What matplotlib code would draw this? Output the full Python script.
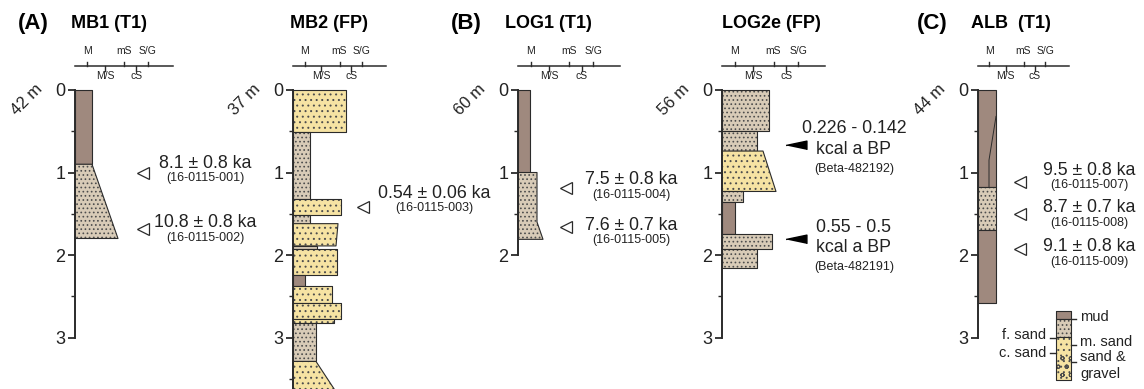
import numpy as np
import matplotlib.pyplot as plt

plt.rcParams['font.family'] = ['Liberation Sans', 'DejaVu Sans']
plt.rcParams['hatch.linewidth'] = 0.7

W, H = 1144, 389
TOP_PX = 90        # pixel row of 0 m
PX_PER_M = 82.5

# lithology styles
FILL = {'mud': '#9f897e', 'fs': '#d8cbb7', 'ms': '#f6e3a3', 'sg': '#f6e3a3'}
HATCH = {'mud': None, 'fs': '....', 'ms': '...', 'sg': 'o'}
DOT = '#4d4d4d'
LINE = '#2b2b2b'

# grain-size scale (position in % of scale length)
grain_up = ['M', 'mS', 'S/G']
grain_up_pos = [12.5, 50, 74]
grain_dn = ['M/S', 'cS']
grain_dn_pos = [30.5, 62.5]

# layers: (depths m, widths in grain-size units, lithology)
mb1_layers = [([0.0, 0.90], [17, 17], 'mud'),
              ([0.90, 1.80], [17, 43], 'fs')]
mb2_layers = [([0.0, 0.51], [53, 53], 'ms'),
              ([0.51, 1.32], [17, 17], 'fs'),
              ([1.32, 1.52], [48, 48], 'ms'),
              ([1.52, 1.62], [17, 17], 'fs'),
              ([1.62, 1.89], [45, 43], 'ms'),
              ([1.89, 1.93], [24, 24], 'fs'),
              ([1.93, 2.24], [44, 44], 'ms'),
              ([2.24, 2.38], [12, 12], 'mud'),
              ([2.38, 2.58], [39, 39], 'ms'),
              ([2.58, 2.78], [48, 48], 'ms'),
              ([2.78, 2.82], [41, 41], 'ms'),
              ([2.82, 3.29], [23, 23], 'fs'),
              ([3.29, 3.64], [23, 42], 'ms')]
log1_layers = [([0.0, 1.0], [12, 12], 'mud'),
               ([1.0, 1.6, 1.81], [19, 19, 25], 'fs')]
log2_layers = [([0.0, 0.50], [47, 47], 'fs'),
               ([0.50, 0.74], [35, 35], 'fs'),
               ([0.74, 1.23], [41, 54], 'ms'),
               ([1.23, 1.36], [21, 21], 'fs'),
               ([1.36, 1.74], [13, 13], 'mud'),
               ([1.74, 1.93], [50, 50], 'fs'),
               ([1.93, 2.16], [35, 35], 'fs')]
alb_layers = [([0.0, 1.17], [18, 18], 'mud'),
              ([1.17, 1.70], [18, 18], 'fs'),
              ([1.70, 2.58], [18, 18], 'mud')]
alb_notch_d = [0.32, 0.85, 1.17]
alb_notch_w = [18, 11, 11]

# dated samples
mb1_age_depth = [1.0, 1.68]
mb1_age = ['8.1 ± 0.8 ka', '10.8 ± 0.8 ka']
mb1_sample = ['(16-0115-001)', '(16-0115-002)']
mb2_age_depth = [1.42]
mb2_age = ['0.54 ± 0.06 ka']
mb2_sample = ['(16-0115-003)']
log1_age_depth = [1.19, 1.66]
log1_age = ['7.5 ± 0.8 ka', '7.6 ± 0.7 ka']
log1_sample = ['(16-0115-004)', '(16-0115-005)']
log2_age_depth = [0.67, 1.81]
log2_age = ['0.226 - 0.142\nkcal a BP', '0.55 - 0.5\nkcal a BP']
log2_sample = ['(Beta-482192)', '(Beta-482191)']
alb_age_depth = [1.11, 1.50, 1.93]
alb_age = ['9.5 ± 0.8 ka', '8.7 ± 0.7 ka', '9.1 ± 0.8 ka']
alb_sample = ['(16-0115-007)', '(16-0115-008)', '(16-0115-009)']

logs = [
    dict(x0=75, title='MB1 (T1)', title_x=34, letter='(A)', letter_x=-42, elev='42 m',
         length=3, scale=98, layers=mb1_layers, age_d=mb1_age_depth, ages=mb1_age,
         samples=mb1_sample, tri_x=68, lab_x=130, lab_d=[0.885, 1.61], filled=False),
    dict(x0=293, title='MB2 (FP)', title_x=36, letter=None, letter_x=0, elev='37 m',
         length=3.64, scale=93, layers=mb2_layers, age_d=mb2_age_depth, ages=mb2_age,
         samples=mb2_sample, tri_x=70, lab_x=141, lab_d=[1.25], filled=False),
    dict(x0=518, title='LOG1 (T1)', title_x=30, letter='(B)', letter_x=-52, elev='60 m',
         length=2, scale=102, layers=log1_layers, age_d=log1_age_depth, ages=log1_age,
         samples=log1_sample, tri_x=48, lab_x=113, lab_d=[1.09, 1.64], filled=False),
    dict(x0=722, title='LOG2e (FP)', title_x=49, letter=None, letter_x=0, elev='56 m',
         length=3, scale=103, layers=log2_layers, age_d=log2_age_depth, ages=log2_age,
         samples=log2_sample, tri_x=74, lab_x=132, lab_d=[0.595, 1.79], filled=True),
    dict(x0=978, title='ALB  (T1)', title_x=33, letter='(C)', letter_x=-46, elev='44 m',
         length=3, scale=91, layers=alb_layers, age_d=alb_age_depth, ages=alb_age,
         samples=alb_sample, tri_x=42, lab_x=111, lab_d=[0.97, 1.43, 1.90], filled=False),
]

fig = plt.figure(figsize=(W / 100, H / 100), dpi=100)


def draw_layer(ax, depths, widths, lith, left=0):
    ax.fill_betweenx(depths, left, widths, facecolor=FILL[lith], edgecolor=DOT,
                     linewidth=0, hatch=HATCH[lith])
    ax.fill_betweenx(depths, left, widths, facecolor='none', edgecolor=LINE, linewidth=0.8)


for lg in logs:
    ax = fig.add_axes([(lg['x0'] - 80) / W, 0, 300 / W, 1])
    ax.set_xlim(-80, 220)
    ax.set_ylim((H - TOP_PX) / PX_PER_M, -TOP_PX / PX_PER_M)
    ax.patch.set_visible(False)
    for s in ['top', 'right', 'bottom']:
        ax.spines[s].set_visible(False)
    ax.spines['left'].set_position(('data', 0))
    ax.spines['left'].set_bounds(0, lg['length'])
    ax.spines['left'].set_linewidth(1.4)
    ax.spines['left'].set_color(LINE)
    ax.set_xticks([])
    ax.set_yticks(range(int(lg['length']) + 1))
    ax.set_yticks(np.arange(0.5, lg['length'], 1.0), minor=True)
    ax.tick_params(axis='y', which='major', length=5, width=1.3, color=LINE,
                   labelsize=13, pad=2, labelcolor='#222222')
    ax.tick_params(axis='y', which='minor', length=3, width=1.0, color=LINE)

    for depths, widths, lith in lg['layers']:
        draw_layer(ax, depths, widths, lith)

    # grain-size scale
    k = lg['scale'] / 100
    ax.plot([0, lg['scale']], [-0.285, -0.285], color=LINE, lw=1.1)
    for p, t in zip(grain_up_pos, grain_up):
        ax.plot([p * k, p * k], [-0.285, -0.335], color=LINE, lw=1.0)
        ax.text(p * k, -0.47, t, ha='center', va='center', fontsize=7.5, color='#222222')
    for p, t in zip(grain_dn_pos, grain_dn):
        ax.plot([p * k, p * k], [-0.285, -0.235], color=LINE, lw=1.0)
        ax.text(p * k, -0.165, t, ha='center', va='center', fontsize=7.5, color='#222222')

    # titles
    ax.text(lg['title_x'], -0.80, lg['title'], ha='center', va='center',
            fontsize=13, fontweight='bold')
    if lg['letter']:
        ax.text(lg['letter_x'], -0.80, lg['letter'], ha='center', va='center',
                fontsize=16, fontweight='bold')
    ax.text(-48, 0.12, lg['elev'], rotation=45, ha='center', va='center',
            fontsize=12, color='#222222')

    # ages
    if lg['filled']:
        ax.plot([lg['tri_x']] * len(lg['age_d']), lg['age_d'], ls='none',
                marker=[(-1, 0), (1, 0.42), (1, -0.42)], ms=15, color='black', clip_on=False)
    else:
        ax.plot([lg['tri_x']] * len(lg['age_d']), lg['age_d'], ls='none', marker='<',
                ms=8, mfc='white', mec=LINE, mew=0.9, clip_on=False)
    for d, age, smp in zip(lg['lab_d'], lg['ages'], lg['samples']):
        n = age.count('\n') + 1
        ax.text(lg['lab_x'], d, age, ha='center', va='center', fontsize=12.8,
                linespacing=1.25, color='#222222')
        ax.text(lg['lab_x'], d + 0.18 * n, smp, ha='center', va='center', fontsize=9,
                color='#222222')

    if lg['title'].startswith('ALB'):
        ax.plot(alb_notch_w, alb_notch_d, color=LINE, lw=0.7)
        alb_ax = ax

# legend (drawn in the ALB panel)
legend_layers = [([2.68, 2.78], 'mud'), ([2.78, 2.99], 'fs'), ([2.99, 3.52], 'ms')]
for depths, lith in legend_layers:
    draw_layer(alb_ax, depths, 93, lith, left=78)
alb_ax.fill_betweenx([3.21, 3.50], 78.5, 92.5, facecolor='none', edgecolor=DOT,
                     linewidth=0, hatch='oo')
right_labels = [('mud', 2.78, 2.75), ('m. sand', 3.09, 3.05), ('sand &\ngravel', 3.30, 3.34)]
for t, tick_d, text_d in right_labels:
    alb_ax.plot([93, 98], [tick_d, tick_d], color=LINE, lw=1.0)
    alb_ax.text(102, text_d, t, ha='left', va='center', fontsize=10.5,
                linespacing=1.2, color='#222222')
left_labels = [('f. sand', 3.0, 2.97), ('c. sand', 3.19, 3.19)]
for t, tick_d, text_d in left_labels:
    alb_ax.plot([72, 78], [tick_d, tick_d], color=LINE, lw=1.0)
    alb_ax.text(68, text_d, t, ha='right', va='center', fontsize=10.5, color='#222222')

fig.savefig('out.png', dpi=100)
